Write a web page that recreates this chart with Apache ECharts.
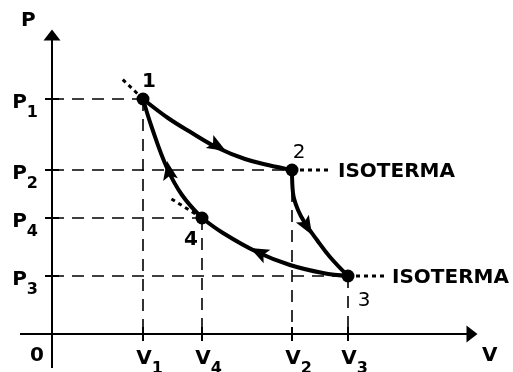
<!DOCTYPE html>
<html><head><meta charset="utf-8">
<script src="https://cdn.jsdelivr.net/npm/echarts@6/dist/echarts.min.js"></script>
<style>html,body{margin:0;padding:0;background:#fff}#c{width:513px;height:372px}</style>
</head><body><div id="c"></div>
<script>
// ---- data (arbitrary units) ----
const vTickNames = ['V1', 'V4', 'V2', 'V3'];
const vTickValues = [9.1, 15.0, 24.0, 29.6];
const pTickNames = ['P1', 'P2', 'P4', 'P3'];
const pTickValues = [23.5, 16.4, 11.6, 5.8];

const pointNames = ['1', '2', '3', '4'];
const pointV = [9.1, 24.0, 29.6, 15.0];
const pointP = [23.5, 16.4, 5.8, 11.6];

// isotherm 1 -> 2
const curve12 = [[9.1, 23.5], [11.6, 21.6], [14.0, 20.1], [16.6, 18.6], [19.3, 17.5], [21.6, 16.9], [24.0, 16.4]];
// adiabat 2 -> 3
const curve23 = [[24.0, 16.4], [24.1, 14.1], [24.6, 12.4], [25.3, 11.1], [26.5, 9.4], [27.8, 7.7], [29.6, 5.8]];
// isotherm 3 -> 4
const curve34 = [[29.6, 5.8], [27.1, 6.1], [23.8, 6.9], [20.5, 8.2], [17.1, 10.1], [15.0, 11.6]];
// adiabat 4 -> 1
const curve41 = [[15.0, 11.6], [13.0, 13.9], [11.5, 16.6], [10.0, 20.6], [9.1, 23.5]];

// arrow heads: [tipV, tipP, backV, backP]
const arrows = [[17.4, 18.3, 15.5, 19.4], [26.0, 9.9, 25.0, 11.6], [19.8, 8.6, 21.8, 7.6], [11.5, 17.3, 11.8, 15.7]];

// dotted isotherm extensions
const ext1 = [[9.1, 23.5], [6.8, 25.7]];
const ext4 = [[15.0, 11.6], [11.8, 13.6]];
const ext2 = [[24.0, 16.4], [27.8, 16.4]];
const ext3 = [[29.6, 5.8], [33.2, 5.8]];
const isoLabel = 'ISOTERMA';

const axisNames = { p: 'P', v: 'V', origin: '0' };

// ---- styles ----
const FONT = 'DejaVu Sans';
const pointLabelOffsets = [[6, -17], [7, -17], [16, 25], [-11, 22]];
const pointLabelWeights = ['bold', 'normal', 'normal', 'bold'];

function sub(name) { return '{m|' + name[0] + '}{s|' + name.slice(1) + '}'; }

const chart = echarts.init(document.getElementById('c'), null, { renderer: 'canvas' });

function dashedGuides(params, api) {
  const v = api.value(0), p = api.value(1);
  const a = api.coord([0, p]), b = api.coord([v, p]), c = api.coord([v, 0]);
  const st = { stroke: '#000', lineWidth: 1.6, lineDash: [12, 8], fill: null };
  return { type: 'group', children: [
    { type: 'line', shape: { x1: a[0], y1: a[1], x2: b[0], y2: b[1] }, style: st },
    { type: 'line', shape: { x1: b[0], y1: b[1], x2: c[0], y2: c[1] }, style: st }
  ] };
}

function tickRender(isX) {
  return function (params, api) {
    const p = api.coord([api.value(0), api.value(1)]);
    const h = 7;
    const shape = isX ? { x1: p[0], y1: p[1] - h, x2: p[0], y2: p[1] + h }
                      : { x1: p[0] - h, y1: p[1], x2: p[0] + h, y2: p[1] };
    return { type: 'line', shape: shape, style: { stroke: '#000', lineWidth: 2 } };
  };
}

// short stubs of the axes beyond the origin (left of the P axis, below the V axis)
function axisStubs(params, api) {
  const o = api.coord([0, 0]);
  const st = { stroke: '#000', lineWidth: 2 };
  return { type: 'group', children: [
    { type: 'line', shape: { x1: o[0] - 32, y1: o[1], x2: o[0], y2: o[1] }, style: st },
    { type: 'line', shape: { x1: o[0], y1: o[1], x2: o[0], y2: o[1] + 34 }, style: st }
  ] };
}

function arrowRender(params, api) {
  const t = api.coord([api.value(0), api.value(1)]);
  const b = api.coord([api.value(2), api.value(3)]);
  let dx = t[0] - b[0], dy = t[1] - b[1];
  const len = Math.hypot(dx, dy); dx /= len; dy /= len;
  const L = 19, W = 7.5, N = 4;
  const nx = -dy, ny = dx;
  const bx = t[0] - dx * L, by = t[1] - dy * L;
  return { type: 'polygon', shape: { points: [[t[0], t[1]], [bx + nx * W, by + ny * W], [bx + dx * N, by + dy * N], [bx - nx * W, by - ny * W]] },
           style: { fill: '#000' } };
}

const curveStyle = { color: '#000', width: 4 };
function curveSeries(d) {
  return { type: 'line', data: d, smooth: 0.4, showSymbol: false, lineStyle: curveStyle, silent: true, z: 4, animation: false, clip: false };
}
function dottedSeries(d) {
  return { type: 'line', data: d, showSymbol: false, lineStyle: { color: '#000', width: 3, type: [4, 4] }, silent: true, z: 3, animation: false, clip: false };
}

const labelRich = {
  m: { fontFamily: FONT, fontWeight: 'bold', fontSize: 20, color: '#000', lineHeight: 20, verticalAlign: 'top' },
  s: { fontFamily: FONT, fontWeight: 'bold', fontSize: 16, color: '#000', lineHeight: 16, verticalAlign: 'top', padding: [12, 0, 0, 0] }
};
const labelRichY = {
  m: { fontFamily: FONT, fontWeight: 'bold', fontSize: 20, color: '#000', lineHeight: 20, verticalAlign: 'top', padding: [4, 0, 0, 0] },
  s: { fontFamily: FONT, fontWeight: 'bold', fontSize: 16, color: '#000', lineHeight: 16, verticalAlign: 'top', padding: [16, 0, 0, 0] }
};

chart.setOption({
  animation: false,
  backgroundColor: '#fff',
  grid: { left: 52, right: 41, top: 35, bottom: 38, containLabel: false, outerBoundsMode: 'none' },
  xAxis: {
    type: 'value', min: 0, max: 42.0,
    axisLine: { onZero: false, lineStyle: { color: '#000', width: 2 }, symbol: ['none', 'triangle'], symbolSize: [17, 11] },
    axisTick: { show: false }, splitLine: { show: false },
    axisLabel: {
      customValues: vTickValues, margin: 15, align: 'center', padding: [0, 0, 0, 13], hideOverlap: false,
      formatter: function (val) { const i = vTickValues.indexOf(val); return i < 0 ? '' : sub(vTickNames[i]); },
      rich: labelRich
    }
  },
  yAxis: {
    type: 'value', min: 0, max: 29.9,
    axisLine: { onZero: false, lineStyle: { color: '#000', width: 2 }, symbol: ['none', 'triangle'], symbolSize: [17, 11] },
    axisTick: { show: false }, splitLine: { show: false },
    axisLabel: {
      customValues: pTickValues, margin: 14, hideOverlap: false,
      formatter: function (val) { const i = pTickValues.indexOf(val); return i < 0 ? '' : sub(pTickNames[i]); },
      rich: labelRichY
    }
  },
  graphic: [
    { type: 'text', left: 21, top: 11, style: { text: axisNames.p, font: 'bold 20px "' + FONT + '"', fill: '#000' } },
    { type: 'text', left: 482, top: 346, style: { text: axisNames.v, font: 'bold 20px "' + FONT + '"', fill: '#000' } },
    { type: 'text', left: 30, top: 346, style: { text: axisNames.origin, font: 'bold 20px "' + FONT + '"', fill: '#000' } }
  ],
  series: [
    { type: 'custom', renderItem: axisStubs, data: [[0, 0]], encode: { x: 0, y: 1 }, silent: true, z: 3, clip: false },
    { type: 'custom', renderItem: dashedGuides, data: pointV.map((v, i) => [v, pointP[i]]), encode: { x: 0, y: 1 }, silent: true, z: 2, clip: false },
    { type: 'custom', renderItem: tickRender(true), data: vTickValues.map(v => [v, 0]), encode: { x: 0, y: 1 }, silent: true, z: 3, clip: false },
    { type: 'custom', renderItem: tickRender(false), data: pTickValues.map(p => [0, p]), encode: { x: 0, y: 1 }, silent: true, z: 3, clip: false },
    dottedSeries(ext1), dottedSeries(ext2), dottedSeries(ext3), dottedSeries(ext4),
    curveSeries(curve12), curveSeries(curve23), curveSeries(curve34), curveSeries(curve41),
    { type: 'custom', renderItem: arrowRender, data: arrows, encode: { x: 0, y: 1 }, silent: true, z: 6, clip: false },
    {
      type: 'scatter', symbolSize: 13, itemStyle: { color: '#000', opacity: 1 }, z: 8, silent: true,
      data: pointV.map((v, i) => ({ value: [v, pointP[i]], label: { offset: pointLabelOffsets[i], fontWeight: pointLabelWeights[i] } })),
      label: { show: true, position: 'inside', formatter: p => pointNames[p.dataIndex], color: '#000', opacity: 1, fontSize: 20, fontFamily: FONT }
    },
    {
      type: 'scatter', symbolSize: 0, z: 8, silent: true, itemStyle: { opacity: 1 },
      data: [ext2[1], ext3[1]],
      label: { show: true, position: 'right', distance: 8, offset: [0, 2], formatter: isoLabel, color: '#000', opacity: 1, fontSize: 20, fontWeight: 'bold', fontFamily: FONT }
    }
  ]
});
</script></body></html>
